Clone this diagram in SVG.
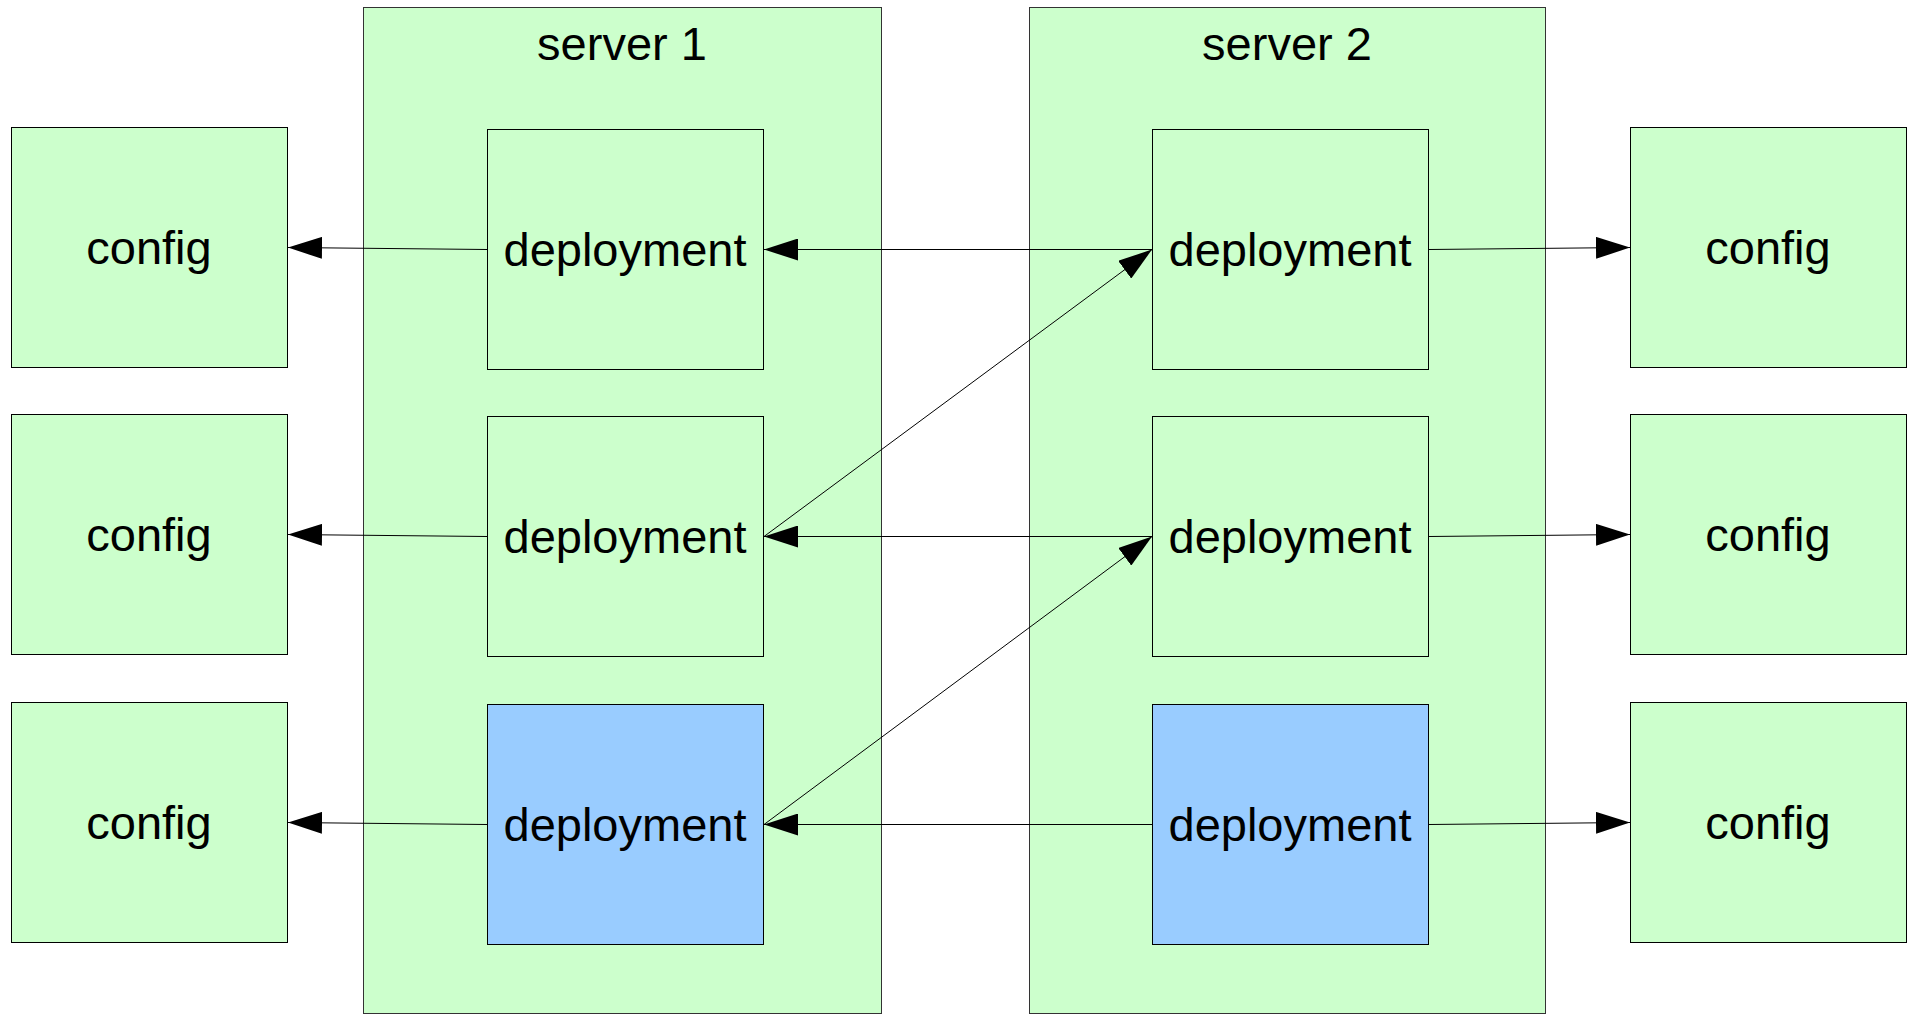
<svg xmlns="http://www.w3.org/2000/svg" width="1914" height="1015" viewBox="0 0 1914 1015">
<style>
.srv{fill:#ccffcc;stroke:#333;stroke-width:1}
.box{fill:#ccffcc;stroke:#000;stroke-width:1}
.blue{fill:#99ccff;stroke:#000;stroke-width:1}
text{font-family:"Liberation Sans",Arial,sans-serif;font-size:47px;fill:#000;text-anchor:middle}
.conn line{stroke:#000;stroke-width:1;fill:none;marker-end:url(#arr)}
</style>
<defs>
<marker id="arr" markerUnits="userSpaceOnUse" markerWidth="34" markerHeight="22" refX="34" refY="11" orient="auto">
<path d="M0,0 L34,11 L0,22 Z" fill="#000"/>
</marker>
</defs>
<rect width="1914" height="1015" fill="#fff"/>
<g id="server1"><rect class="srv" x="363.5" y="7.5" width="518" height="1006"/><text x="622" y="60">server 1</text></g>
<g id="server2"><rect class="srv" x="1029.5" y="7.5" width="516" height="1006"/><text x="1287" y="60">server 2</text></g>
<g id="config-l1"><rect class="box" x="11.5" y="127.5" width="276" height="240"/><text x="149" y="264">config</text></g>
<g id="config-l2"><rect class="box" x="11.5" y="414.5" width="276" height="240"/><text x="149" y="551">config</text></g>
<g id="config-l3"><rect class="box" x="11.5" y="702.5" width="276" height="240"/><text x="149" y="839">config</text></g>
<g id="dep-s1-1"><rect class="box" x="487.5" y="129.5" width="276" height="240"/><text x="625" y="266">deployment</text></g>
<g id="dep-s1-2"><rect class="box" x="487.5" y="416.5" width="276" height="240"/><text x="625" y="553">deployment</text></g>
<g id="dep-s1-3"><rect class="blue" x="487.5" y="704.5" width="276" height="240"/><text x="625" y="841">deployment</text></g>
<g id="dep-s2-1"><rect class="box" x="1152.5" y="129.5" width="276" height="240"/><text x="1290" y="266">deployment</text></g>
<g id="dep-s2-2"><rect class="box" x="1152.5" y="416.5" width="276" height="240"/><text x="1290" y="553">deployment</text></g>
<g id="dep-s2-3"><rect class="blue" x="1152.5" y="704.5" width="276" height="240"/><text x="1290" y="841">deployment</text></g>
<g id="config-r1"><rect class="box" x="1630.5" y="127.5" width="276" height="240"/><text x="1768" y="264">config</text></g>
<g id="config-r2"><rect class="box" x="1630.5" y="414.5" width="276" height="240"/><text x="1768" y="551">config</text></g>
<g id="config-r3"><rect class="box" x="1630.5" y="702.5" width="276" height="240"/><text x="1768" y="839">config</text></g>
<g id="connectors" class="conn">
<line x1="487" y1="249.5" x2="288" y2="247.5"/>
<line x1="487" y1="536.5" x2="288" y2="534.5"/>
<line x1="487" y1="824.5" x2="288" y2="822.5"/>
<line x1="1152" y1="249.5" x2="764" y2="249.5"/>
<line x1="1152" y1="536.5" x2="764" y2="536.5"/>
<line x1="1152" y1="824.5" x2="764" y2="824.5"/>
<line x1="764" y1="536.5" x2="1152" y2="249.5"/>
<line x1="764" y1="824.5" x2="1152" y2="536.5"/>
<line x1="1429" y1="249.5" x2="1630" y2="247.5"/>
<line x1="1429" y1="536.5" x2="1630" y2="534.5"/>
<line x1="1429" y1="824.5" x2="1630" y2="822.5"/>
</g>
</svg>
